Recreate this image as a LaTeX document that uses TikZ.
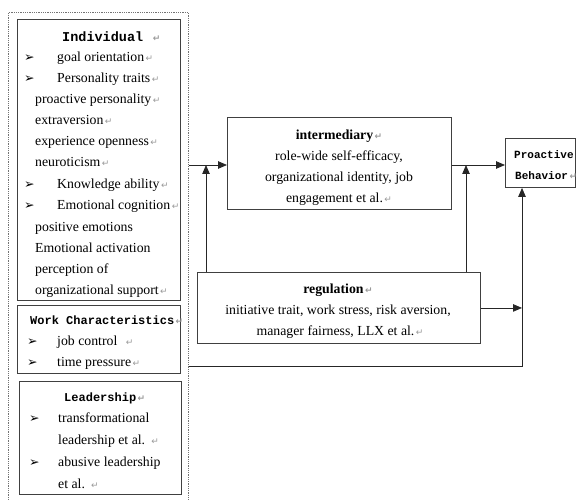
\documentclass[tikz,border=0pt]{standalone}
\usepackage{fontspec}
\setmainfont{Liberation Serif}
\newfontfamily\hdf{Liberation Mono}
\newfontfamily\dvf{DejaVu Sans}
\usetikzlibrary{arrows.meta}
\newcommand{\pmk}{{\dvf\fontsize{9}{9}\selectfont\color{black!40}\,↵}}
\newcommand{\blt}{{\dvf\fontsize{12.5}{12}\selectfont ➢}}
\begin{document}
\begin{tikzpicture}[x=1pt,y=-1pt,
  txt/.style={inner sep=0pt, anchor=base west, font=\fontsize{13.8}{15}\selectfont},
  ctxt/.style={inner sep=0pt, anchor=base, font=\fontsize{13.8}{15}\selectfont},
  hd/.style={inner sep=0pt, anchor=base west, font=\hdf\bfseries\fontsize{12}{14}\selectfont},
  bul/.style={inner sep=0pt, anchor=base west},
  box/.style={draw=black!75, line width=0.9pt, inner sep=0pt, anchor=north west},
  grp/.style={draw=black!55, densely dotted, line width=0.8pt, inner sep=0pt, anchor=north west},
  arr/.style={draw=black!85, line width=0.8pt, -{Triangle[length=9pt,width=7.5pt]}},
  ln/.style={draw=black!80, line width=0.8pt}]
\useasboundingbox (0,0) rectangle (576,500);
% boxes
\node[grp, minimum width=180pt, minimum height=498pt] (group) at (8,12) {};
\node[box, minimum width=163pt, minimum height=281pt] (indiv) at (17,19) {};
\node[box, minimum width=163pt, minimum height=68pt] (work) at (17,305) {};
\node[box, minimum width=162pt, minimum height=113pt] (lead) at (19,381) {};
\node[box, minimum width=224pt, minimum height=92pt] (inter) at (227,117) {};
\node[box, minimum width=283pt, minimum height=71pt] (reg) at (197,272) {};
\node[box, minimum width=70pt, minimum height=49pt] (pro) at (505,138) {};
% Individual
\node[hd, font=\hdf\bfseries\fontsize{13.5}{15}\selectfont] (t1) at (62,42) {Individual \pmk};
\node[bul] (b1) at (24,62) {\blt};
\node[txt] (t2) at (57,62) {goal orientation\pmk};
\node[bul] (b2) at (24,83) {\blt};
\node[txt] (t3) at (57,83) {Personality traits\pmk};
\node[txt] (t4) at (35,104) {proactive personality\pmk};
\node[txt] (t5) at (35,125) {extraversion\pmk};
\node[txt] (t6) at (35,146) {experience openness\pmk};
\node[txt] (t7) at (35,167) {neuroticism\pmk};
\node[bul] (b3) at (24,189) {\blt};
\node[txt] (t8) at (57,189) {Knowledge ability\pmk};
\node[bul] (b4) at (24,210) {\blt};
\node[txt] (t9) at (57,210) {Emotional cognition\pmk};
\node[txt] (t10) at (35,231) {positive emotions};
\node[txt] (t11) at (35,252) {Emotional activation};
\node[txt] (t12) at (35,273) {perception of};
\node[txt] (t13) at (35,294) {organizational support\pmk};
% Work characteristics
\node[hd] (w1) at (30,324) {Work Characteristics\pmk};
\node[bul] (wb1) at (27,345) {\blt};
\node[txt] (w2) at (57,345) {job control \ \pmk};
\node[bul] (wb2) at (27,366) {\blt};
\node[txt] (w3) at (57,366) {time pressure\pmk};
% Leadership
\node[hd] (l1) at (64,401) {Leadership\pmk};
\node[bul] (lb1) at (29,422) {\blt};
\node[txt] (l2) at (58,422) {transformational};
\node[txt] (l3) at (58,444) {leadership et al. \pmk};
\node[bul] (lb2) at (29,466) {\blt};
\node[txt] (l4) at (58,466) {abusive leadership};
\node[txt] (l5) at (58,488) {et al. \pmk};
% intermediary
\node[ctxt] (m1) at (339,140) {\bfseries intermediary\pmk};
\node[ctxt] (m2) at (339,161) {role-wide self-efficacy,};
\node[ctxt] (m3) at (339,182) {organizational identity, job};
\node[ctxt] (m4) at (339,203) {engagement et al.\pmk};
% regulation
\node[ctxt] (r1) at (338,293) {\bfseries regulation\pmk};
\node[ctxt] (r2) at (338,314) {initiative trait, work stress, risk aversion,};
\node[ctxt] (r3) at (340,335) {manager fairness, LLX et al.\pmk};
% proactive
\node[hd, font=\hdf\bfseries\fontsize{11}{13}\selectfont] (p1) at (514,159) {Proactive};
\node[hd, font=\hdf\bfseries\fontsize{11}{13}\selectfont] (p2) at (515,180) {Behavior\pmk};
% connectors
\coordinate (ja) at (206,165);
\coordinate (jb) at (466,165);
\coordinate (jc) at (522,366);
\draw[arr] (group.east |- ja) -- (inter.west |- ja);
\draw[arr] (reg.north -| ja) -- (ja);
\draw[arr] (inter.east |- jb) -- (pro.west |- jb);
\draw[arr] (reg.north -| jb) -- (jb);
\draw[arr] (reg.east) -- (reg.east -| jc);
\draw[arr] (group.east |- jc) -- (jc) -- (jc |- pro.south);
\end{tikzpicture}
\end{document}
